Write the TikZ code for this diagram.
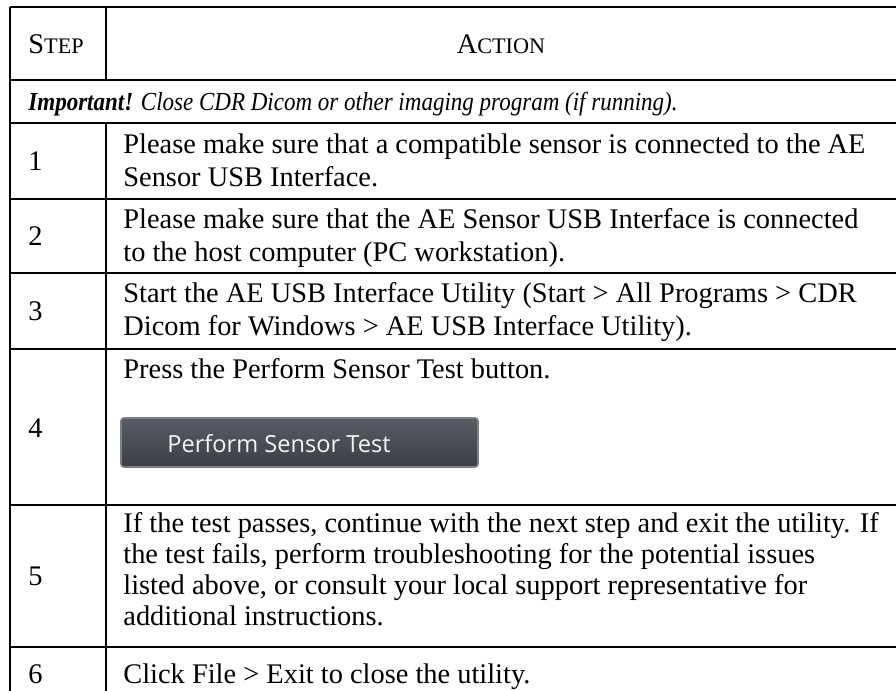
\documentclass[tikz,border=0pt]{standalone}
\usepackage{fontspec}
\setmainfont{Liberation Serif}
\newfontfamily\notefont[FakeStretch=0.885]{Liberation Serif}
\newfontfamily\btnfont{Open Sans}
\definecolor{btnTop}{HTML}{585C63}
\definecolor{btnBot}{HTML}{3B3E45}
\definecolor{btnEdge}{HTML}{7C7F85}
\begin{document}
\begin{tikzpicture}[x=0.5pt,y=-0.5pt,
    rule/.style={line width=1pt},
    txt/.style={anchor=base west,inner sep=0pt,font=\fontsize{14.2}{16}\selectfont},
    head/.style={anchor=base,inner sep=0pt,font=\fontsize{14.2}{16}\selectfont}]
  \useasboundingbox (0,0) rectangle (896,691);
  % rules of the table
  \foreach \y in {7,80,123,199,273,349,505,647}
    \draw[rule] (10,\y) -- (897,\y);
  \draw[rule] (10,6.5) -- (10,692);
  \draw[rule] (106,6.5) -- (106,80);
  \draw[rule] (106,123) -- (106,692);
  % header
  \node[head,anchor=base west] (hstep) at (28,53) {S{\fontsize{11.1}{12}\selectfont TEP}};
  \node[head] (haction) at (501,53) {A{\fontsize{11.1}{12}\selectfont CTION}};
  \node[txt,font=\notefont\fontsize{13}{15}\selectfont] (note) at (28,110)
    {\itshape\textbf{Important!} Close CDR Dicom or other imaging program (if running).};
  % step numbers
  \node[txt] (n1) at (28,170) {1};
  \node[txt] (n2) at (28,245) {2};
  \node[txt] (n3) at (28,320) {3};
  \node[txt] (n4) at (28,437) {4};
  \node[txt] (n5) at (28,585) {5};
  \node[txt] (n6) at (28,683) {6};
  % actions
  \node[txt] (a1a) at (123,153) {Please make sure that a compatible sensor is connected to the AE};
  \node[txt] (a1b) at (123,186) {Sensor USB Interface.};
  \node[txt] (a2a) at (123,228) {Please make sure that the AE Sensor USB Interface is connected};
  \node[txt] (a2b) at (123,261) {to the host computer (PC workstation).};
  \node[txt] (a3a) at (123,302) {Start the AE USB Interface Utility (Start > All Programs > CDR};
  \node[txt] (a3b) at (123,335) {Dicom for Windows > AE USB Interface Utility).};
  \node[txt] (a4a) at (123,378) {Press the Perform Sensor Test button.};
  \node[txt] (a5a) at (123,532) {If the test passes, continue with the next step and exit the utility. If};
  \node[txt] (a5b) at (123,563) {the test fails, perform troubleshooting for the potential issues};
  \node[txt] (a5c) at (123,594) {listed above, or consult your local support representative for};
  \node[txt] (a5d) at (123,625) {additional instructions.};
  \node[txt] (a6a) at (123,683) {Click File > Exit to close the utility.};
  % button picture
  \shade[top color=btnTop,bottom color=btnBot,draw=btnEdge,line width=0.8pt,rounded corners=1.5pt]
    (121,418) rectangle (478,467);
  \node[anchor=base west,inner sep=0pt,text=white!92!gray,font=\btnfont\fontsize{11.8}{13}\selectfont]
    (btn) at (167,452) {Perform Sensor Test};
\end{tikzpicture}
\end{document}
